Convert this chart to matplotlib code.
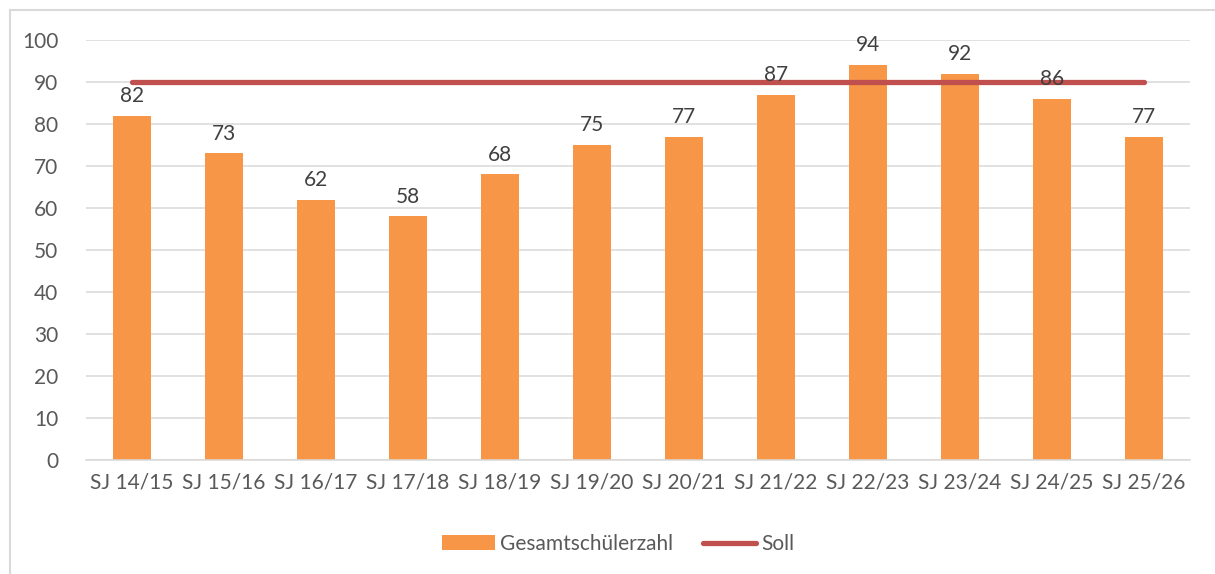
import matplotlib.pyplot as plt
from matplotlib.lines import Line2D

years = ['SJ 14/15', 'SJ 15/16', 'SJ 16/17', 'SJ 17/18', 'SJ 18/19', 'SJ 19/20',
         'SJ 20/21', 'SJ 21/22', 'SJ 22/23', 'SJ 23/24', 'SJ 24/25', 'SJ 25/26']
schueler = [82, 73, 62, 58, 68, 75, 77, 87, 94, 92, 86, 77]
soll = [90] * 12

plt.rcParams['font.family'] = ['Lato', 'DejaVu Sans']

fig = plt.figure(figsize=(12.15, 5.74), dpi=100)
ax = fig.add_axes([86 / 1215, 1 - 460 / 574, 1104 / 1215, 420 / 574])

x = list(range(len(years)))
ax.bar(x, schueler, width=0.42, color='#F79646', label='Gesamtschülerzahl', zorder=2)
ax.plot(x, soll, color='#C0504D', linewidth=3.8, solid_capstyle='round', label='Soll', zorder=3)

for xi, v in zip(x, schueler):
    ax.annotate(str(v), (xi, v), xytext=(0, 7), textcoords='offset points',
                ha='center', va='bottom', fontsize=15, color='#404040', zorder=4)

ax.set_xlim(-0.5, len(years) - 0.5)
ax.set_ylim(0, 100)
ax.set_yticks(range(0, 101, 10))
ax.set_xticks(x)
ax.set_xticklabels(years)
ax.yaxis.grid(True, color='#D9D9D9', linewidth=1.1, zorder=0)
ax.set_axisbelow(True)
for s in ['top', 'right', 'left']:
    ax.spines[s].set_visible(False)
ax.spines['bottom'].set_color('#D9D9D9')
ax.spines['bottom'].set_linewidth(1.1)
ax.tick_params(axis='y', length=0, pad=20, labelsize=15, labelcolor='#595959')
ax.tick_params(axis='x', length=0, pad=9, labelsize=15, labelcolor='#595959')

handles, labels = ax.get_legend_handles_labels()
order = [labels.index('Gesamtschülerzahl'), labels.index('Soll')]
ax.legend([handles[i] for i in order], [labels[i] for i in order],
          loc='center', bbox_to_anchor=(0.482, -0.2), ncol=2, frameon=False,
          fontsize=15, labelcolor='#595959', handlelength=2.55, handletextpad=0.25,
          columnspacing=1.45, handleheight=0.75)

# chart frame
fig.add_artist(Line2D([10 / 1215, 10 / 1215], [0, 1 - 10 / 574], color='#D9D9D9', linewidth=1.5))
fig.add_artist(Line2D([10 / 1215, 1], [1 - 10 / 574, 1 - 10 / 574], color='#D9D9D9', linewidth=1.5))

fig.savefig('out.png', dpi=100)
